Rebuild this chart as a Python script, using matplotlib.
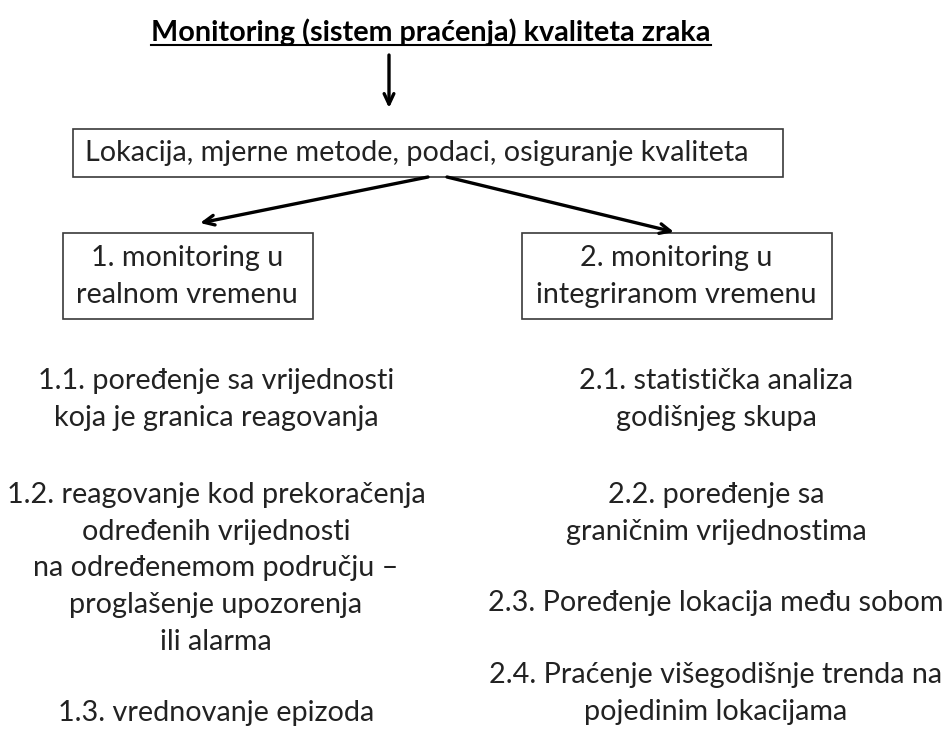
import matplotlib
matplotlib.use('Agg')
import matplotlib.pyplot as plt
from matplotlib.patches import Rectangle

# Diagram texts
title = 'Monitoring (sistem praćenja) kvaliteta zraka'
top_box = 'Lokacija, mjerne metode, podaci, osiguranje kvaliteta'
left_box = ['1. monitoring u', 'realnom vremenu']
right_box = ['2. monitoring u', 'integriranom vremenu']
left_items = [
    ['1.1. poređenje sa vrijednosti', 'koja je granica reagovanja'],
    ['1.2. reagovanje kod prekoračenja', 'određenih vrijednosti',
     'na određenemom području –', 'proglašenje upozorenja', 'ili alarma'],
    ['1.3. vrednovanje epizoda'],
]
right_items = [
    ['2.1. statistička analiza', 'godišnjeg skupa'],
    ['2.2. poređenje sa', 'graničnim vrijednostima'],
    ['2.3. Poređenje lokacija među sobom'],
    ['2.4. Praćenje višegodišnje trenda na', 'pojedinim lokacijama'],
]

plt.rcParams['font.family'] = ['Lato', 'DejaVu Sans']
TXT = '#222222'
FS = 20.7
LINE = 36.7

fig = plt.figure(figsize=(9.46, 7.29), dpi=100)
ax = fig.add_axes([0, 0, 1, 1])
ax.set_xlim(0, 946)
ax.set_ylim(729, 0)
ax.axis('off')

# title with underline
t = ax.text(431, 32, title, ha='center', va='center', fontsize=FS,
            fontweight='bold', color='black')
fig.canvas.draw()
bb = t.get_window_extent().transformed(ax.transData.inverted())
ax.plot([bb.x0, bb.x1], [45, 45], color='black', lw=1.5)

def arrow(x0, y0, x1, y1):
    ax.annotate('', xy=(x1, y1), xytext=(x0, y0),
                arrowprops=dict(arrowstyle='->,head_length=0.75,head_width=0.35',
                                color='black', lw=2.4, shrinkA=0, shrinkB=0))

arrow(389, 55, 389, 108)

# top box
ax.add_patch(Rectangle((73, 129), 710, 48, fill=False, ec='#3a3a3a', lw=1.2))
ax.text(417, 153, top_box, ha='center', va='center', fontsize=FS, color=TXT)

arrow(428, 177, 200, 223)
arrow(447, 177, 674, 232)

# branch boxes
ax.add_patch(Rectangle((63, 233), 250, 86, fill=False, ec='#3a3a3a', lw=1.2))
ax.add_patch(Rectangle((522, 233), 310, 86, fill=False, ec='#3a3a3a', lw=1.2))
for i, line in enumerate(left_box):
    ax.text(187, 258 + i * LINE, line, ha='center', va='center', fontsize=FS, color=TXT)
for i, line in enumerate(right_box):
    ax.text(676, 258 + i * LINE, line, ha='center', va='center', fontsize=FS, color=TXT)

# item lists
left_y = [381, 495, 713]
right_y = [381, 495, 603, 675]
for y0, block in zip(left_y, left_items):
    for i, line in enumerate(block):
        ax.text(216, y0 + i * LINE, line, ha='center', va='center', fontsize=FS, color=TXT)
for y0, block in zip(right_y, right_items):
    for i, line in enumerate(block):
        ax.text(716, y0 + i * LINE, line, ha='center', va='center', fontsize=FS, color=TXT)

plt.savefig('out.png', dpi=100)
plt.close()
